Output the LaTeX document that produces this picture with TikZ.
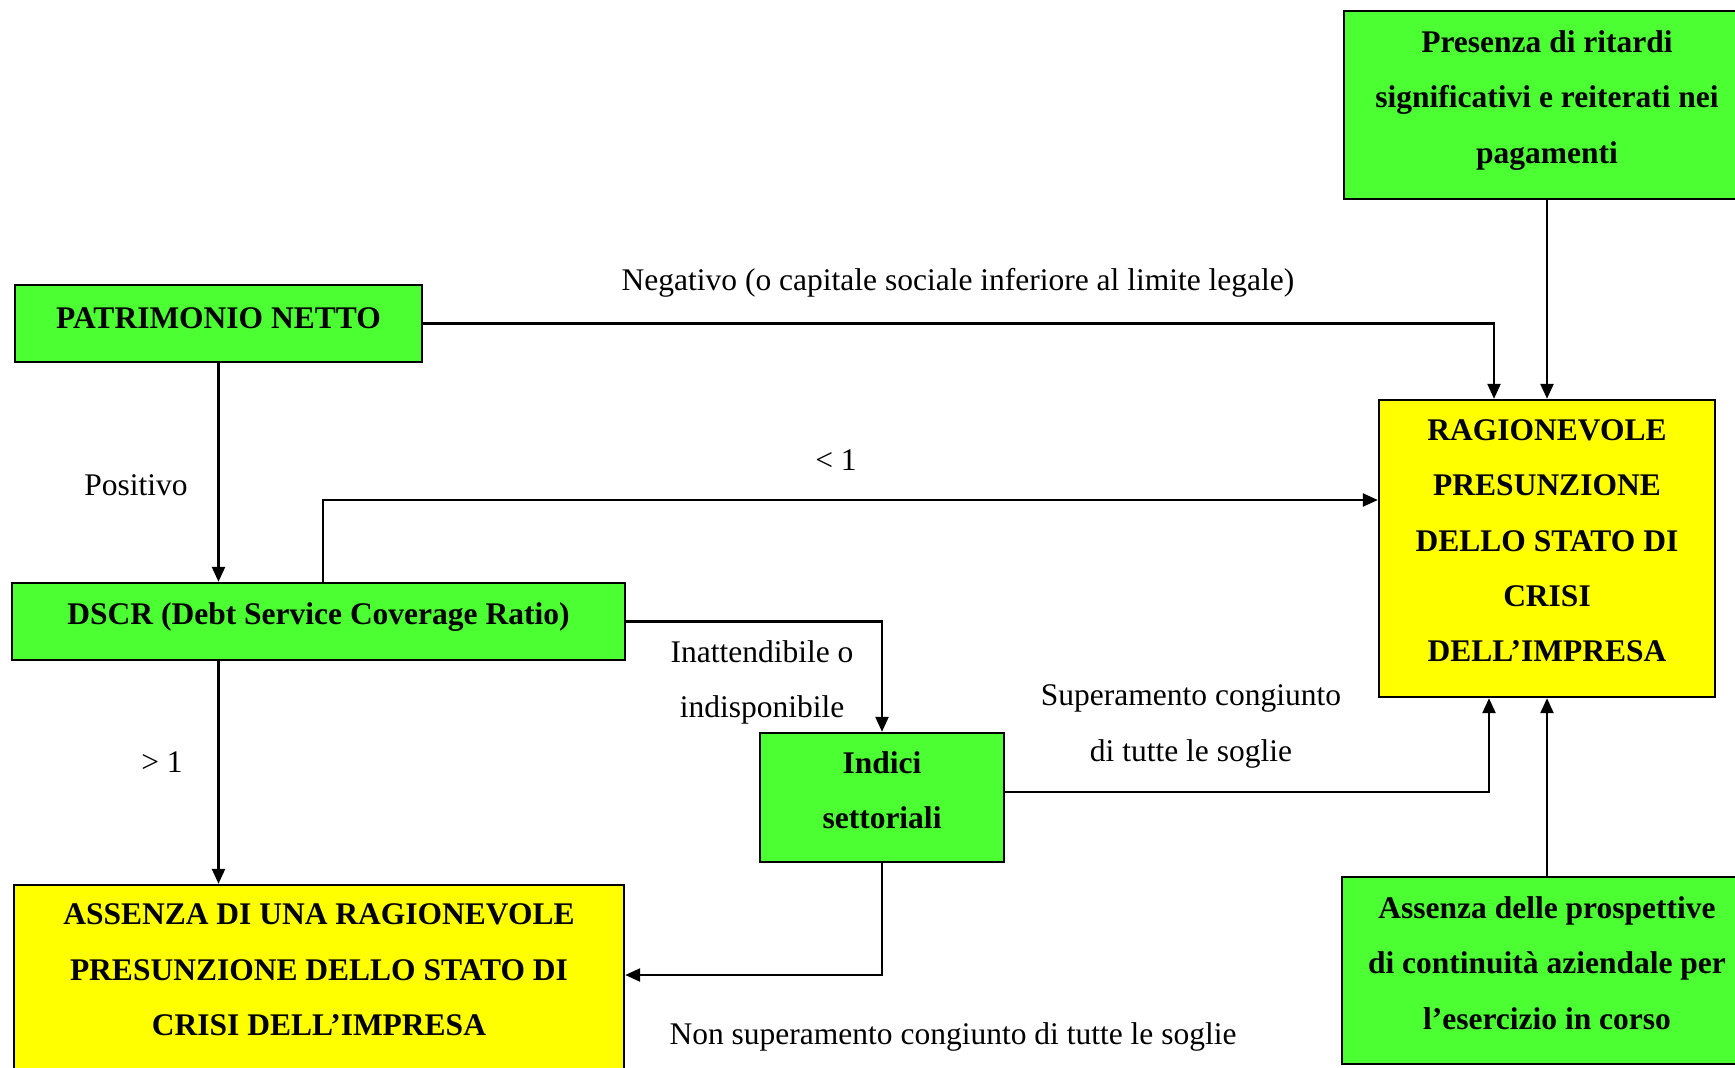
\documentclass[tikz,border=0pt]{standalone}
\usepackage{fontspec}
\setmainfont{Liberation Serif}
\usetikzlibrary{arrows.meta}
\definecolor{boxgreen}{RGB}{76,255,51}
\definecolor{boxyellow}{RGB}{255,255,0}
\tikzset{
  x=1pt, y=-1pt,
  box/.style={draw=black, line width=2.4pt, rectangle, inner sep=0pt},
  gbox/.style={box, fill=boxgreen},
  ybox/.style={box, fill=boxyellow},
  btxt/.style={align=center, inner sep=0pt, font=\fontsize{31.5}{55.3}\selectfont\bfseries},
  lbl/.style={align=center, inner sep=0pt, font=\fontsize{31.5}{55.3}\selectfont},
  arr/.style={line width=2.4pt, -{Triangle[length=15pt,width=13pt]}}
}
\begin{document}
\begin{tikzpicture}
\useasboundingbox (0,0) rectangle (1735,1068);
\clip (0,0) rectangle (1735,1068);
\fill[white] (0,0) rectangle (1735,1068);

% boxes
\node[gbox, minimum width=406pt, minimum height=188pt] (pres) at (1547,105) {};
\node[btxt] (prest) at (1547,100.5) {Presenza di ritardi\\significativi e reiterati nei\\pagamenti};
\node[ybox, minimum width=336pt, minimum height=297pt] (rag) at (1547,548.5) {};
\node[btxt] (ragt) at (1547,541) {RAGIONEVOLE\\PRESUNZIONE\\DELLO STATO DI\\CRISI\\DELL’IMPRESA};
\node[gbox, minimum width=407pt, minimum height=77pt] (pn) at (218.5,323.5) {};
\node[btxt] (pnt) at (218.5,318) {PATRIMONIO NETTO};
\node[gbox, minimum width=613pt, minimum height=77pt] (dscr) at (318.5,621.5) {};
\node[btxt] (dscrt) at (318.5,617) {DSCR (Debt Service Coverage Ratio)};
\node[gbox, minimum width=244pt, minimum height=129pt] (ind) at (882,797.5) {};
\node[btxt] (indt) at (882,790) {Indici\\settoriali};
\node[ybox, minimum width=610pt, minimum height=200pt] (assy) at (319,985) {};
\node[btxt] (assyt) at (319,970) {ASSENZA DI UNA RAGIONEVOLE\\PRESUNZIONE DELLO STATO DI\\CRISI DELL’IMPRESA};
\node[gbox, minimum width=406pt, minimum height=187pt] (assg) at (1545,970.5) {};
\node[btxt] (assgt) at (1547,963) {Assenza delle prospettive\\di continuità aziendale per\\l’esercizio in corso};

% helper coordinates
\coordinate (xA) at (1494,0);
\coordinate (xB) at (323,0);
\coordinate (yB) at (0,500);
\coordinate (xD) at (1489,0);
\coordinate (yD) at (0,792);
\coordinate (yE) at (0,975);

% connectors
\draw[arr] (pn.east) -| (rag.north -| xA);
\draw[arr] (pres.south -| rag.north) -- (rag.north);
\draw[arr] (pn.south) -- (pn.south |- dscr.north);
\draw[arr] (dscr.north -| xB) |- (rag.west |- yB);
\draw[arr] (dscr.east) -| (ind.north);
\draw[arr] (ind.east |- yD) -| (rag.south -| xD);
\draw[arr] (ind.south) |- (assy.east |- yE);
\draw[arr] (dscr.south -| pn.south) -- (assy.north -| pn.south);
\draw[arr] (assg.north -| rag.south) -- (rag.south);

% labels
\node[lbl] (l1) at (958,282.5) {Negativo (o capitale sociale inferiore al limite legale)};
\node[lbl] (l2) at (836,460) {< 1};
\node[lbl] (l3) at (136,485) {Positivo};
\node[lbl] (l4) at (162,762) {> 1};
\node[lbl] (l5) at (762,682.5) {Inattendibile o\\indisponibile};
\node[lbl] (l6) at (1191,726.5) {Superamento congiunto\\di tutte le soglie};
\node[lbl] (l7) at (953,1036.5) {Non superamento congiunto di tutte le soglie};
\end{tikzpicture}
\end{document}
